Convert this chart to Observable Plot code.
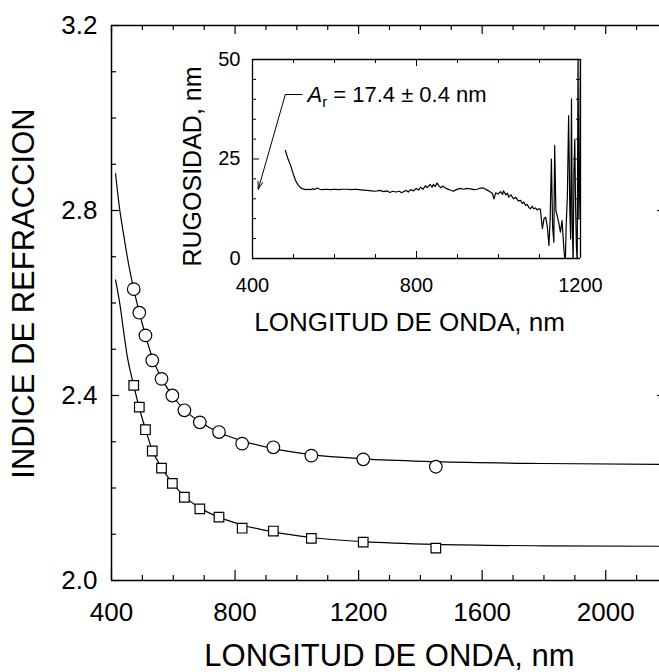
<!DOCTYPE html>
<html><head><meta charset="utf-8">
<script src="https://cdn.jsdelivr.net/npm/d3@7"></script>
<script src="https://cdn.jsdelivr.net/npm/@observablehq/plot@0.6"></script>
<style>
html,body{margin:0;padding:0;background:#fff;overflow:hidden;}
#wrap{position:relative;width:659px;height:672px;overflow:hidden;}
#wrap svg{position:absolute;left:0;top:0;}
</style></head><body><div id="wrap"></div>
<script>
// ---------- DATA ----------
// measured points (nm, refractive index)
const wlMeas   = [472, 490, 510, 532, 562, 597, 636, 686, 748, 823, 924, 1047, 1215, 1450];
const nCircles = [2.630, 2.579, 2.530, 2.476, 2.436, 2.400, 2.368, 2.342, 2.321, 2.296, 2.288, 2.270, 2.262, 2.246];
const nSquares = [2.422, 2.375, 2.326, 2.280, 2.243, 2.210, 2.180, 2.155, 2.137, 2.113, 2.107, 2.091, 2.083, 2.070];
// fitted curves
const fitWl    = [413, 427, 440, 451, 472, 490, 510, 532, 562, 597, 636, 686, 748, 823, 924, 1047, 1215, 1450, 1800, 2200];
const fitUpper = [2.88, 2.80, 2.745, 2.70, 2.63, 2.58, 2.53, 2.482, 2.437, 2.400, 2.369, 2.343, 2.320, 2.302, 2.285, 2.272, 2.263, 2.257, 2.253, 2.251];
const fitLower = [2.65, 2.598, 2.535, 2.485, 2.422, 2.373, 2.327, 2.282, 2.244, 2.211, 2.182, 2.157, 2.137, 2.120, 2.105, 2.093, 2.084, 2.078, 2.075, 2.074];
// inset: roughness vs wavelength
const rugosidad = [
 [480,27.2],[486,25.2],[493,23.4],[499,21.4],[505,19.6],[511,18.5],[517,17.8],[523,17.5],[529,17.3],[535,17.4],
 [541,17.3],[547,17.5],[553,17.4],[558,17.7],[564,17.4],[570,17.3],[580,17.4],[590,17.3],[600,17.4],[610,17.3],
 [620,17.4],[631,17.4],[640,17.3],[650,17.4],[660,17.3],[670,17.2],[680,17.1],[690,17.0],[700,16.9],[710,17.1],
 [720,16.8],[728,17.0],[735,16.6],[742,16.9],[750,16.7],[758,16.9],[764,16.5],[768,16.8],[775,17.1],[780,16.7],
 [786,17.3],[793,17.0],[799,17.6],[805,17.2],[810,17.9],[816,17.4],[822,18.3],[826,17.8],[833,18.6],[838,17.9],
 [841,18.6],[846,18.1],[850,19.0],[855,18.2],[859,17.8],[865,18.2],[870,17.7],[875,17.5],[882,17.2],[890,16.9],
 [897,17.3],[903,17.5],[907,17.6],[915,17.4],[922,17.6],[932,17.5],[940,17.3],[948,17.4],[956,17.7],[964,17.7],
 [970,17.3],[976,17.0],[980,16.7],[985,16.4],[989,15.0],[993,16.5],[999,16.2],[1005,16.8],[1010,16.1],[1012,17.0],
 [1018,16.0],[1022,16.4],[1025,15.4],[1030,16.0],[1037,15.0],[1042,15.4],[1048,14.5],[1054,14.6],[1058,13.8],[1062,14.2],
 [1066,13.3],[1070,13.6],[1074,12.8],[1078,12.5],[1082,13.1],[1086,12.5],[1090,12.7],[1094,12.2],[1098,12.5],[1102,12.4],
 [1107,7.5],[1111,10.0],[1115,10.4],[1119,8.0],[1123,3.3],[1126,10.0],[1129,25.0],[1132,8.0],[1135,4.1],[1137,28.4],
 [1140,12.0],[1143,10.8],[1147,9.0],[1151,6.6],[1155,9.5],[1160,1.6],[1163,-1],[1165,8.0],[1168,15.8],[1171,35.9],
 [1174,12.0],[1176,4.9],[1178,40.1],[1180,8.0],[1182,-1],[1184,21.7],[1186,30.0],[1188,13.3],[1190,3.0],[1192,-1],
 [1194,52],[1196,10.0],[1198,17.6],[1200,52]
];
// tick labels
const xMajor = [400, 800, 1200, 1600, 2000];
const yMajor = [2.0, 2.4, 2.8, 3.2];
const insetXMajor = [400, 800, 1200];
const insetYMajor = [0, 25, 50];
// texts
const xTitle = "LONGITUD DE ONDA, nm";
const yTitle = "INDICE DE REFRACCION";
const insetYTitle = "RUGOSIDAD, nm";
const annParts = ["A", "r", " = 17.4 ± 0.4 nm"];
const annot = {x: 480, y: 41.2, x2: 522, tipX: 414, tipY: 17.4, textX: 534};

// ---------- LAYOUT ----------
const FONT = '"Liberation Sans", Arial, Helvetica, sans-serif';
const W = 659, H = 672;
const mL = 111, mT = 25, mB = 92, mR = 0;
const xRightPx = 667;                  // pixel of 2200 (just off canvas)
const frameW = W - mL - mR, frameH = H - mT - mB;
const K = "#000";

const xMinor = d3.range(500, 2200, 100).filter(v => v % 400 !== 0);
const yMinor = d3.range(21, 32).map(v => v / 10).filter(v => Math.round(v * 10) % 4 !== 0);

const circles = wlMeas.map((w, i) => ({w, n: nCircles[i]}));
const squares = wlMeas.map((w, i) => ({w, n: nSquares[i]}));
const upper = fitWl.map((w, i) => ({w, n: fitUpper[i]}));
const lower = fitWl.map((w, i) => ({w, n: fitLower[i]}));

const main = Plot.plot({
  width: W, height: H, marginLeft: mL, marginRight: mR, marginTop: mT, marginBottom: mB,
  style: {fontFamily: FONT, background: "transparent", color: K},
  x: {domain: [400, 2200], range: [mL, xRightPx]},
  y: {domain: [2.0, 3.2]},
  marks: [
    Plot.line(upper, {x: "w", y: "n", curve: "monotone-x", stroke: K, strokeWidth: 1.2}),
    Plot.line(lower, {x: "w", y: "n", curve: "monotone-x", stroke: K, strokeWidth: 1.2}),
    Plot.dot(circles, {x: "w", y: "n", r: 6.3, fill: "#fff", stroke: K, strokeWidth: 1.2}),
    Plot.dot(squares, {x: "w", y: "n", r: 5.4, symbol: "square", fill: "#fff", stroke: K, strokeWidth: 1.2}),
    // frame
    Plot.ruleX([400], {stroke: K, strokeWidth: 1.5}),
    Plot.ruleY([2.0, 3.2], {stroke: K, strokeWidth: 1.5}),
    // bottom ticks (inward)
    Plot.tickX(xMajor, {x: d => d, insetTop: frameH - 10, stroke: K, strokeWidth: 1.2}),
    Plot.tickX(xMinor, {x: d => d, insetTop: frameH - 5, stroke: K, strokeWidth: 1.2}),
    // top ticks
    Plot.tickX(xMajor, {x: d => d, insetBottom: frameH - 9, stroke: K, strokeWidth: 1.2}),
    Plot.tickX(xMinor, {x: d => d, insetBottom: frameH - 5, stroke: K, strokeWidth: 1.2}),
    // left ticks
    Plot.tickY(yMajor, {y: d => d, insetRight: frameW - 8, stroke: K, strokeWidth: 1.2}),
    Plot.tickY(yMinor, {y: d => d, insetRight: frameW - 5, stroke: K, strokeWidth: 1.2}),
    // right ticks (axis just off canvas)
    Plot.tickY(yMajor, {y: d => d, insetLeft: frameW + (xRightPx - W) - 10, insetRight: -(xRightPx - W), stroke: K, strokeWidth: 1.2}),
    Plot.tickY(yMinor, {y: d => d, insetLeft: frameW + (xRightPx - W) - 5, insetRight: -(xRightPx - W), stroke: K, strokeWidth: 1.2}),
    Plot.axisX({ticks: xMajor, anchor: "bottom", tickSize: 0, tickPadding: 22, fontSize: 26, tickFormat: d => String(d), label: null, fill: K}),
    Plot.axisY({ticks: yMajor, anchor: "left", tickSize: 0, tickPadding: 14, fontSize: 26, tickFormat: d3.format(".1f"), label: null, fill: K}),
    Plot.text([xTitle], {text: d => d, frameAnchor: "bottom", textAnchor: "middle", lineAnchor: "bottom", dx: 4, dy: 85, fontSize: 31, fill: K}),
    Plot.text([yTitle], {text: d => d, frameAnchor: "left", rotate: -90, textAnchor: "middle", lineAnchor: "bottom", dx: -78, dy: -9.5, fontSize: 31, fill: K})
  ]
});

// ---------- INSET ----------
const iL = 252, iR = 580, iT = 59, iB = 258;
const iW = iR - iL, iH = iB - iT;
const ixMinor = d3.range(500, 1200, 100).filter(v => v !== 800);
const iyMinor = d3.range(5, 50, 5).filter(v => v !== 25);

const inset = Plot.plot({
  width: W, height: H, marginLeft: iL, marginRight: W - iR, marginTop: iT, marginBottom: H - iB,
  style: {fontFamily: FONT, background: "transparent", color: K},
  x: {domain: [400, 1200]},
  y: {domain: [0, 50]},
  marks: [
    Plot.line(rugosidad, {x: d => d[0], y: d => d[1], stroke: K, strokeWidth: 1.2, clip: true}),
    Plot.ruleX([400, 1200], {stroke: K, strokeWidth: 1.3}),
    Plot.ruleY([0, 50], {stroke: K, strokeWidth: 1.3}),
    Plot.tickX(insetXMajor, {x: d => d, insetTop: iH - 7, stroke: K}),
    Plot.tickX(ixMinor, {x: d => d, insetTop: iH - 4, stroke: K}),
    Plot.tickX(insetXMajor, {x: d => d, insetBottom: iH - 7, stroke: K}),
    Plot.tickX(ixMinor, {x: d => d, insetBottom: iH - 4, stroke: K}),
    Plot.tickY(insetYMajor, {y: d => d, insetRight: iW - 7, stroke: K}),
    Plot.tickY(iyMinor, {y: d => d, insetRight: iW - 4, stroke: K}),
    Plot.tickY(insetYMajor, {y: d => d, insetLeft: iW - 7, stroke: K}),
    Plot.tickY(iyMinor, {y: d => d, insetLeft: iW - 4, stroke: K}),
    Plot.axisX({ticks: insetXMajor, anchor: "bottom", tickSize: 0, tickPadding: 19, fontSize: 20, tickFormat: d => String(d), label: null, fill: K}),
    Plot.axisY({ticks: insetYMajor, anchor: "left", tickSize: 0, tickPadding: 12, fontSize: 20, tickFormat: d => String(d), label: null, fill: K}),
    Plot.arrow([annot], {x1: "x", y1: "y", x2: "tipX", y2: "tipY", headAngle: 35, headLength: 12, stroke: K, strokeWidth: 1}),
    Plot.link([annot], {x1: "x", y1: "y", x2: "x2", y2: "y", stroke: K, strokeWidth: 1}),
    Plot.text([annot], {x: "textX", y: "y", text: () => annParts.join(""), textAnchor: "start", lineAnchor: "middle", fontSize: 22, fill: K}),
    Plot.text([xTitle], {text: d => d, frameAnchor: "bottom", textAnchor: "middle", lineAnchor: "bottom", dx: -7, dy: 72, fontSize: 26, fill: K}),
    Plot.text([insetYTitle], {text: d => d, frameAnchor: "left", rotate: -90, textAnchor: "middle", lineAnchor: "bottom", dx: -52, dy: 7.5, fontSize: 25, fill: K})
  ]
});

const wrap = document.getElementById("wrap");
wrap.appendChild(main);
wrap.appendChild(inset);

// rich text for the annotation (italic A, subscript r)
const NS = "http://www.w3.org/2000/svg";
inset.querySelectorAll("text").forEach(t => {
  if (t.textContent === annParts.join("")) {
    while (t.firstChild) t.removeChild(t.firstChild);
    const a = document.createElementNS(NS, "tspan");
    a.setAttribute("font-style", "italic"); a.textContent = annParts[0];
    const r = document.createElementNS(NS, "tspan");
    r.setAttribute("font-size", "15"); r.setAttribute("dy", "5"); r.textContent = annParts[1];
    const rest = document.createElementNS(NS, "tspan");
    rest.setAttribute("dy", "-5"); rest.textContent = annParts[2];
    t.appendChild(a); t.appendChild(r); t.appendChild(rest);
  }
});
</script></body></html>
